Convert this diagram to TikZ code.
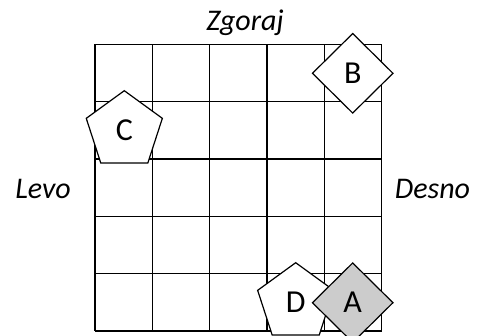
\documentclass[tikz,border=0pt]{standalone}
\usepackage{fontspec}
\setmainfont{Carlito}
\usetikzlibrary{shapes.geometric}
\definecolor{shadegray}{HTML}{CCCCCC}
\tikzset{
  gridline/.style={line width=1.2pt, black},
  shapeline/.style={draw=black, line width=1.2pt, fill=white, inner sep=0pt, font=\fontsize{32}{38}\selectfont},
  dmd/.style={shapeline, diamond, minimum width=81pt, minimum height=80pt},
  pent/.style={shapeline, regular polygon, regular polygon sides=5, minimum size=80pt},
  side/.style={font=\fontsize{30}{36}\selectfont\itshape, inner sep=0pt}
}
\begin{document}
\begin{tikzpicture}[x=1pt,y=-1pt]
\useasboundingbox (0,0) rectangle (482,335);
\foreach \i in {0,...,5} {
  \draw[gridline] (95+57.34*\i,44.3) -- (95+57.34*\i,331);
  \draw[gridline] (95,44.3+57.34*\i) -- (381.7,44.3+57.34*\i);
}
\node[dmd] (B) at (352.7,73.3) {B};
\node[pent] (C) at (124.3,130.7) {C};
\node[pent] (D) at (295.7,302.7) {D};
\node[dmd, fill=shadegray] (A) at (352.7,302.7) {A};
\node[side] (top) at (245,23) {Zgoraj};
\node[side] (left) at (43,189) {Levo};
\node[side] (right) at (432.5,189) {Desno};
\end{tikzpicture}
\end{document}
